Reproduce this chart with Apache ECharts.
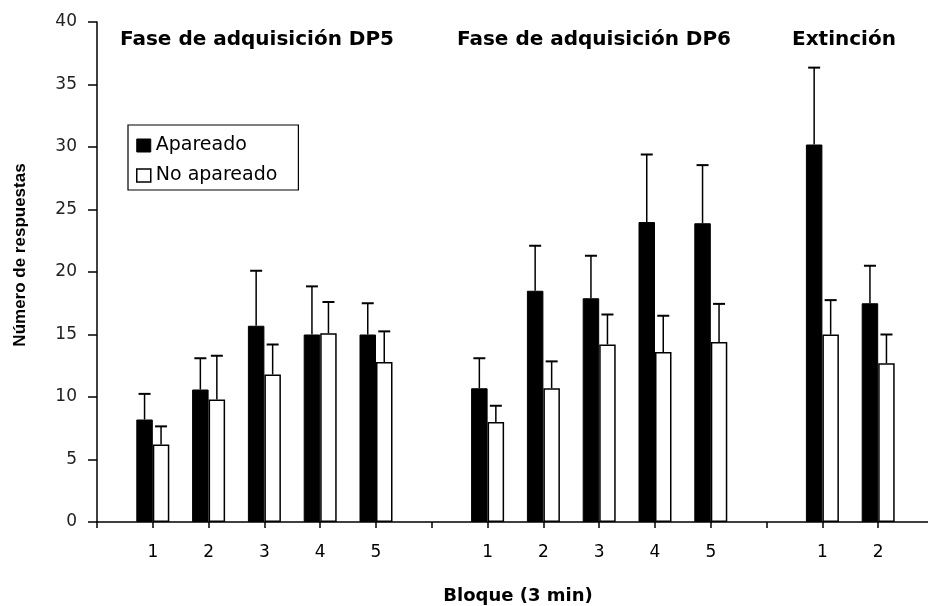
<!DOCTYPE html>
<html><head><meta charset="utf-8">
<script src="https://cdn.jsdelivr.net/npm/echarts@6/dist/echarts.min.js"></script>
<style>html,body{margin:0;padding:0;background:#fff}#c{width:928px;height:606px}</style>
</head><body><div id="c"></div>
<script>
// Categories (blank entries are the separators between phases)
const categories = ['', '1', '2', '3', '4', '5', '', '1', '2', '3', '4', '5', '', '1', '2', ''];
const seriesNames = ['Apareado', 'No apareado'];
const apareado      = [null, 8.2, 10.6, 15.7, 15.0, 15.0, null, 10.7, 18.5, 17.9, 24.0, 23.9, null, 30.2, 17.5, null];
const apareadoErr   = [null, 2.05, 2.5, 4.4, 3.85, 2.5, null, 2.4, 3.6, 3.4, 5.4, 4.65, null, 6.15, 3.0, null];
const noApareado    = [null, 6.2, 9.8, 11.8, 15.1, 12.8, null, 8.0, 10.7, 14.2, 13.6, 14.4, null, 15.0, 12.7, null];
const noApareadoErr = [null, 1.45, 3.5, 2.4, 2.5, 2.45, null, 1.3, 2.15, 2.4, 2.9, 3.05, null, 2.75, 2.3, null];
const phaseTitles = ['Fase de adquisición DP5', 'Fase de adquisición DP6', 'Extinción'];
const yTitle = 'Número de respuestas';
const xTitle = 'Bloque (3 min)';

const BAR_W = 16.5;

function errData(vals, errs) {
  const out = [];
  vals.forEach((v, i) => { if (v != null) out.push([i, v, errs[i]]); });
  return out;
}
function makeErr(offset) {
  return function (params, api) {
    const i = api.value(0), v = api.value(1), e = api.value(2);
    const p0 = api.coord([i, v]);
    const p1 = api.coord([i, v + e]);
    const x = p0[0] + offset;
    return {
      type: 'group',
      children: [
        { type: 'line', shape: { x1: x, y1: p0[1], x2: x, y2: p1[1] }, style: { stroke: '#000', lineWidth: 1.5 } },
        { type: 'line', shape: { x1: x - 6, y1: p1[1], x2: x + 6, y2: p1[1] }, style: { stroke: '#000', lineWidth: 2 } }
      ]
    };
  };
}

const chart = echarts.init(document.getElementById('c'), null, { renderer: 'canvas' });
const txt = '#000';
chart.setOption({
  animation: false,
  backgroundColor: '#fff',
  grid: { left: 97, top: 22, width: 837, height: 500, containLabel: false, outerBoundsMode: 'none' },
  xAxis: {
    type: 'category',
    data: categories,
    boundaryGap: false,
    axisLine: { lineStyle: { color: '#000', width: 1.5 } },
    axisTick: { show: true, interval: 0, length: 6, lineStyle: { color: '#000', width: 1.5 } },
    axisLabel: { interval: 0, margin: 22, color: txt, fontFamily: 'DejaVu Sans', fontSize: 17 },
    splitLine: { show: false }
  },
  yAxis: {
    type: 'value',
    min: 0, max: 40, interval: 5,
    axisLine: { show: true, lineStyle: { color: '#000', width: 1.5 } },
    axisTick: { show: true, length: 9, lineStyle: { color: '#000', width: 1.5 } },
    axisLabel: { margin: 20, color: '#222', fontFamily: 'DejaVu Sans', fontSize: 17 },
    splitLine: { show: false }
  },
  legend: {
    orient: 'vertical',
    left: 128, top: 125,
    padding: [11, 21, 5, 8],
    itemGap: 11,
    itemWidth: 14, itemHeight: 13,
    borderColor: '#000', borderWidth: 1.2,
    icon: 'rect',
    textStyle: { fontFamily: 'DejaVu Sans', fontSize: 19, color: '#000' },
    data: [
      { name: seriesNames[0], itemStyle: { color: '#000', borderColor: '#000', borderWidth: 1 } },
      { name: seriesNames[1], itemStyle: { color: '#fff', borderColor: '#000', borderWidth: 1.5 } }
    ]
  },
  graphic: [
    { type: 'text', x: 257, y: 40, style: { text: phaseTitles[0], font: 'bold 20px "DejaVu Sans"', fill: txt, align: 'center', verticalAlign: 'middle' } },
    { type: 'text', x: 594, y: 40, style: { text: phaseTitles[1], font: 'bold 20px "DejaVu Sans"', fill: txt, align: 'center', verticalAlign: 'middle' } },
    { type: 'text', x: 844, y: 40, style: { text: phaseTitles[2], font: 'bold 20px "DejaVu Sans"', fill: txt, align: 'center', verticalAlign: 'middle' } },
    { type: 'text', x: 20, y: 255, rotation: Math.PI / 2, style: { text: yTitle, font: 'bold 17px "Liberation Sans"', fill: txt, align: 'center', verticalAlign: 'middle' } },
    { type: 'text', x: 518, y: 596, style: { text: xTitle, font: 'bold 18px "DejaVu Sans"', fill: txt, align: 'center', verticalAlign: 'middle' } }
  ],
  series: [
    { name: seriesNames[0], type: 'bar', data: apareado, barWidth: BAR_W, barGap: '0%',
      itemStyle: { color: '#000', borderColor: '#000', borderWidth: 1 } },
    { name: seriesNames[1], type: 'bar', data: noApareado, barWidth: BAR_W, barGap: '0%',
      itemStyle: { color: '#fff', borderColor: '#000', borderWidth: 1.5 } },
    { type: 'custom', name: 'errA', data: errData(apareado, apareadoErr), encode: { x: 0, y: 1 },
      renderItem: makeErr(-BAR_W / 2), z: 5, silent: true },
    { type: 'custom', name: 'errB', data: errData(noApareado, noApareadoErr), encode: { x: 0, y: 1 },
      renderItem: makeErr(BAR_W / 2), z: 5, silent: true }
  ]
});
</script>
</body></html>
